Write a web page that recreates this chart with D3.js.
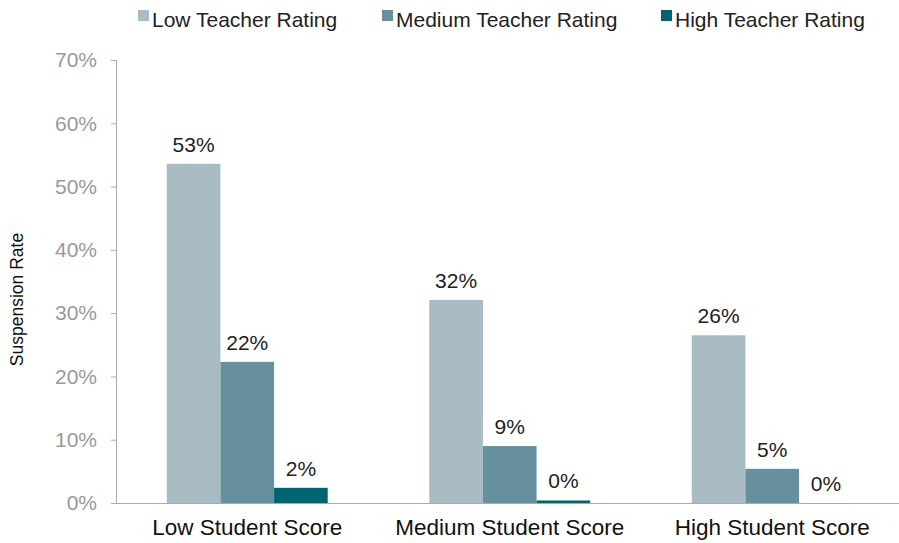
<!DOCTYPE html>
<html>
<head>
<meta charset="utf-8">
<script src="https://cdn.jsdelivr.net/npm/d3@7"></script>
<style>
  body { margin: 0; background: #fff; }
  svg { display: block; font-family: 'Liberation Sans', Arial, sans-serif; }
</style>
</head>
<body>
<svg></svg>
<script>
const w = 899;
const h = 543;

const categories = ['Low Student Score', 'Medium Student Score', 'High Student Score'];
const seriesNames = ['Low Teacher Rating', 'Medium Teacher Rating', 'High Teacher Rating'];
const lowRating = [53.6, 32.1, 26.5];
const mediumRating = [22.3, 9.0, 5.4];
const highRating = [2.4, 0.4, 0];
const barLabels = [['53%', '32%', '26%'], ['22%', '9%', '5%'], ['2%', '0%', '0%']];
const yTicks = [0, 10, 20, 30, 40, 50, 60, 70];
const colors = ['#a9bcc3', '#66909e', '#006570'];

const series = [lowRating, mediumRating, highRating];

const margin = { top: 60, left: 116, bottom: 40 };

let canvas = d3.select('svg').attr('width', w).attr('height', h);

const xScale = d3
	.scaleBand()
	.domain(categories)
	.range([margin.left, 903.5])
	.paddingInner(0.387)
	.paddingOuter(0.1935);
const subScale = d3.scaleBand().domain(d3.range(3)).range([0, xScale.bandwidth()]);
const yScale = d3.scaleLinear().domain([0, 70]).range([h - margin.bottom, margin.top]);

// y axis
const yAxis = d3.axisLeft(yScale).tickValues(yTicks).tickSize(5).tickPadding(14).tickFormat((d) => d + '%');
const yG = canvas.append('g').attr('transform', `translate(${margin.left},0)`).call(yAxis);
yG.attr('font-family', null).attr('font-size', null);
yG.select('.domain').attr('stroke', '#aaa');
yG.selectAll('.tick line').attr('stroke', '#aaa');
yG.selectAll('.tick text').attr('fill', '#999').attr('font-size', '21px');

// bars
series.forEach((vals, s) => {
	canvas
		.append('g')
		.selectAll('rect')
		.data(vals)
		.enter()
		.append('rect')
		.attr('x', (d, i) => xScale(categories[i]) + subScale(s))
		.attr('width', subScale.bandwidth())
		.attr('y', (d) => yScale(d))
		.attr('height', (d) => yScale(0) - yScale(d))
		.attr('fill', colors[s]);

	canvas
		.append('g')
		.selectAll('text')
		.data(vals)
		.enter()
		.append('text')
		.attr('x', (d, i) => xScale(categories[i]) + subScale(s) + subScale.bandwidth() / 2)
		.attr('y', (d) => yScale(d) - 12)
		.attr('text-anchor', 'middle')
		.attr('font-size', '21px')
		.attr('fill', '#222')
		.text((d, i) => barLabels[s][i]);
});

// x axis
const xAxis = d3.axisBottom(xScale).tickSize(0).tickPadding(16);
const xG = canvas.append('g').attr('transform', `translate(0,${yScale(0)})`).call(xAxis);
xG.attr('font-family', null).attr('font-size', null);
xG.select('.domain').attr('stroke', '#aaa').attr('d', `M${margin.left},0.5H${w}`);
xG.selectAll('.tick text').attr('fill', '#111').attr('font-size', '22.5px');

// y axis title
canvas
	.append('text')
	.attr('transform', `translate(23,${(yScale(0) + yScale(70)) / 2 + 18}) rotate(-90)`)
	.attr('text-anchor', 'middle')
	.attr('font-size', '17.5px')
	.attr('fill', '#111')
	.text('Suspension Rate');

// legend
const legendX = [138, 382, 661];
const legend = canvas.append('g');
seriesNames.forEach((name, i) => {
	legend.append('rect').attr('x', legendX[i]).attr('y', 10).attr('width', 11).attr('height', 11).attr('fill', colors[i]);
	legend
		.append('text')
		.attr('x', legendX[i] + 14)
		.attr('y', 27)
		.attr('font-size', '21px')
		.attr('fill', '#222')
		.text(name);
});
</script>
</body>
</html>
